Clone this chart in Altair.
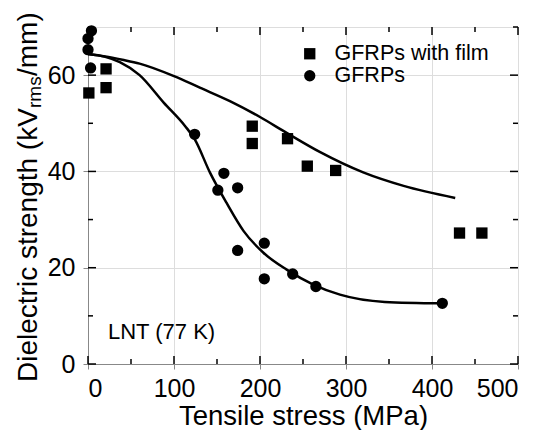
import altair as alt
import pandas as pd

# ---- data ----
film_x = [1, 21, 21, 191, 191, 232, 255, 288, 432, 458]
film_y = [56.3, 61.3, 57.4, 49.4, 45.8, 46.8, 41.1, 40.2, 27.2, 27.2]

gfrp_x = [4, 0, 0, 3, 124, 151, 158, 174, 174, 205, 205, 238, 265, 412]
gfrp_y = [69.2, 67.6, 65.3, 61.5, 47.7, 36.1, 39.6, 36.6, 23.6, 25.1, 17.7, 18.7, 16.1, 12.6]

film_curve_x = [0, 20, 40, 60, 100, 130, 165, 200, 231, 270, 320, 367, 427]
film_curve_y = [64.4, 63.9, 63.2, 62.4, 59.8, 57.4, 54.6, 51.3, 48.0, 44.0, 39.8, 37.0, 34.5]

gfrp_curve_x = [0, 20, 37, 60, 88, 113, 124, 142, 161, 181, 204, 231, 262, 293, 345, 412]
gfrp_curve_y = [64.4, 63.8, 62.7, 60.0, 54.3, 49.4, 46.7, 39.7, 33.5, 27.6, 23.1, 19.6, 16.5, 14.4, 12.9, 12.6]

series_names = ["GFRPs with film", "GFRPs"]
x_major = [0, 100, 200, 300, 400, 500]
x_minor = [50, 150, 250, 350, 450]
y_major = [0, 20, 40, 60]
y_minor = [10, 30, 50, 70]

FONT = "Liberation Sans"
W, H = 430, 337

pts = pd.concat([
    pd.DataFrame({"x": film_x, "y": film_y, "series": series_names[0]}),
    pd.DataFrame({"x": gfrp_x, "y": gfrp_y, "series": series_names[1]}),
])
curves = pd.concat([
    pd.DataFrame({"x": film_curve_x, "y": film_curve_y, "series": series_names[0]}),
    pd.DataFrame({"x": gfrp_curve_x, "y": gfrp_curve_y, "series": series_names[1]}),
])

xs = alt.Scale(domain=[0, 500], nice=False, zero=False)
ys = alt.Scale(domain=[0, 70], nice=False, zero=False)
xaxis = alt.Axis(values=x_major, title="Tensile stress (MPa)", labelFontSize=25,
                 labelPadding=7, titleFontSize=27.5, titleY=60.5,
                 titleBaseline="alphabetic",
                 titleFontWeight="normal", format="d")
yaxis = alt.Axis(values=y_major, title=None, labelFontSize=25, labelPadding=8,
                 format="d")


def X():
    return alt.X("x:Q", scale=xs, axis=xaxis)


def Y():
    return alt.Y("y:Q", scale=ys, axis=yaxis)


lines = alt.Chart(curves).mark_line(color="black", strokeWidth=2.5,
                                    interpolate="monotone").encode(
    x=X(), y=Y(), detail="series:N")

points = alt.Chart(pts).mark_point(filled=True, size=128, color="black",
                                   opacity=1).encode(
    x=X(), y=Y(),
    shape=alt.Shape("series:N",
                    scale=alt.Scale(domain=series_names, range=["square", "circle"]),
                    legend=alt.Legend(title=None, orient="none", legendX=211, legendY=16,
                                      labelFontSize=21.5, labelFont=FONT, labelColor="black",
                                      symbolSize=128, symbolFillColor="black",
                                      symbolStrokeColor="black", symbolStrokeWidth=0,
                                      rowPadding=-1, padding=0, labelOffset=14)))


def xticks(vals, length, bottom=True):
    df = pd.DataFrame({"x": vals})
    if bottom:
        yy, yy2 = H, H - length
    else:
        yy, yy2 = 0, length
    return alt.Chart(df).mark_rule(color="black", strokeWidth=1.5).encode(
        x=X(), y=alt.value(yy), y2=alt.value(yy2))


def yticks(vals, length, left=True):
    df = pd.DataFrame({"y": vals})
    if left:
        xx, xx2 = 0, length
    else:
        xx, xx2 = W, W - length
    return alt.Chart(df).mark_rule(color="black", strokeWidth=1.5).encode(
        y=Y(), x=alt.value(xx), x2=alt.value(xx2))


ticks = [
    xticks(x_major, 8, True), xticks(x_minor, 5, True),
    xticks(x_major, 8, False), xticks(x_minor, 5, False),
    yticks(y_major, 8, True), yticks(y_minor, 5, True),
    yticks(y_major, 8, False), yticks(y_minor, 5, False),
]


def label(text, x, y, size, angle=0):
    kw = dict(align="left", baseline="alphabetic", fontSize=size, font=FONT,
              color="black")
    if angle:
        kw["angle"] = angle
    return alt.Chart(pd.DataFrame({"t": [text]})).mark_text(**kw).encode(
        x=alt.value(x), y=alt.value(y), text="t:N")


ytitle = [
    label("Dielectric strength (kV", -51, 355, 28, 270),
    label("rms", -47, 81, 19, 270),
    label("/mm)", -51, 49, 28, 270),
]
note = label("LNT (77 K)", 20, 312, 22)

chart = alt.layer(lines, points, *ticks, *ytitle, note).properties(
    width=W, height=H,
    autosize=alt.AutoSizeParams(type="none"),
    padding={"left": 80, "top": 19, "right": 27, "bottom": 66},
).configure_view(stroke="black", strokeWidth=1.5).configure_axis(
    labelFont=FONT, titleFont=FONT, labelColor="black", titleColor="black",
    grid=False, domain=False, ticks=False,
).configure(background="white")

chart.save("out.html", embed_options={"renderer": "svg", "actions": False})
